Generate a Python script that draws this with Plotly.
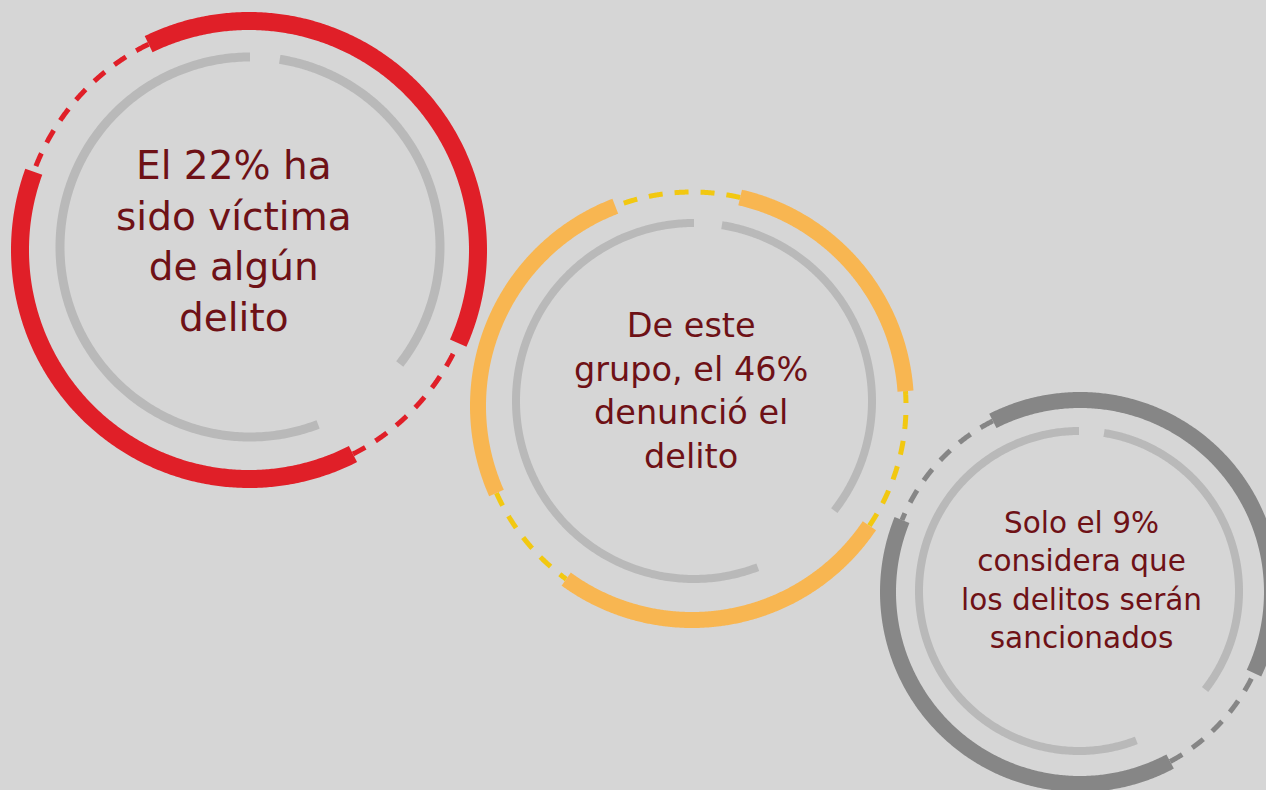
import numpy as np
import plotly.graph_objects as go

# ---- data ----
percentages = [22, 46, 9]
texts = [
    "El 22% ha<br>sido víctima<br>de algún<br>delito",
    "De este<br>grupo, el 46%<br>denunció el<br>delito",
    "Solo el 9%<br>considera que<br>los delitos serán<br>sancionados",
]

# ring geometry (pixel space)
centers_x = [249, 692, 1080]
centers_y = [250, 406, 592]
inner_cx = [250, 694, 1079]
inner_cy = [247, 401, 591]
outer_r = [229, 214, 192]
inner_r = [190, 178, 160]
outer_w = [18, 16, 16]
inner_w = [9, 8, 8]
text_x = [234, 691, 1081]
text_y = [241, 391, 580]
font_sizes = [39, 33.5, 29.5]

solid_colors = ["#E01F28", "#F8B651", "#868686"]
dash_colors = ["#E01F28", "#F2C811", "#868686"]
inner_color = "#B9B9B9"
text_color = "#6E1116"
bg = "#D6D6D6"

# arc angles in degrees (counter-clockwise from east)
solid_arcs = [
    [(-24, 116), (-200, -63)],
    [(4, 77), (111, 204), (234, 326)],
    [(-25, 117), (-202, -62)],
]
dashed_arcs = [
    [(-63, -24), (116, 160)],
    [(77, 111), (204, 234), (326, 364)],
    [(-62, -25), (117, 158)],
]
inner_arcs = [(90, 291), (-38, 81)]

fig = go.Figure()


def arc(cx, cy, r, a0, a1):
    t = np.radians(np.linspace(a0, a1, 300))
    return cx + r * np.cos(t), cy - r * np.sin(t)


for i in range(3):
    cx, cy = centers_x[i], centers_y[i]
    for a0, a1 in inner_arcs:
        x, y = arc(inner_cx[i], inner_cy[i], inner_r[i], a0, a1)
        fig.add_trace(go.Scatter(x=x, y=y, mode="lines",
                                 line=dict(color=inner_color, width=inner_w[i], simplify=False),
                                 hoverinfo="skip", showlegend=False))
    for a0, a1 in dashed_arcs[i]:
        x, y = arc(cx, cy, outer_r[i], a0, a1)
        fig.add_trace(go.Scatter(x=x, y=y, mode="lines",
                                 line=dict(color=dash_colors[i], width=5, dash="14px,12px",
                                           simplify=False),
                                 hoverinfo="skip", showlegend=False))
    for a0, a1 in solid_arcs[i]:
        x, y = arc(cx, cy, outer_r[i], a0, a1)
        fig.add_trace(go.Scatter(x=x, y=y, mode="lines",
                                 line=dict(color=solid_colors[i], width=outer_w[i], simplify=False),
                                 hoverinfo="skip", showlegend=False))
    fig.add_annotation(x=text_x[i], y=text_y[i], text=texts[i], showarrow=False,
                       xanchor="center", yanchor="middle", align="center",
                       font=dict(family="DejaVu Sans", size=font_sizes[i], color=text_color))

fig.update_layout(
    width=1266, height=790,
    margin=dict(l=0, r=0, t=0, b=0),
    paper_bgcolor=bg, plot_bgcolor=bg,
    xaxis=dict(range=[0, 1266], visible=False, fixedrange=True),
    yaxis=dict(range=[790, 0], visible=False, fixedrange=True),
)
fig.write_html("out.html",
               config={"displayModeBar": False},
               post_script="document.body.style.margin='0';"
                           "document.body.style.background='#D6D6D6';")
